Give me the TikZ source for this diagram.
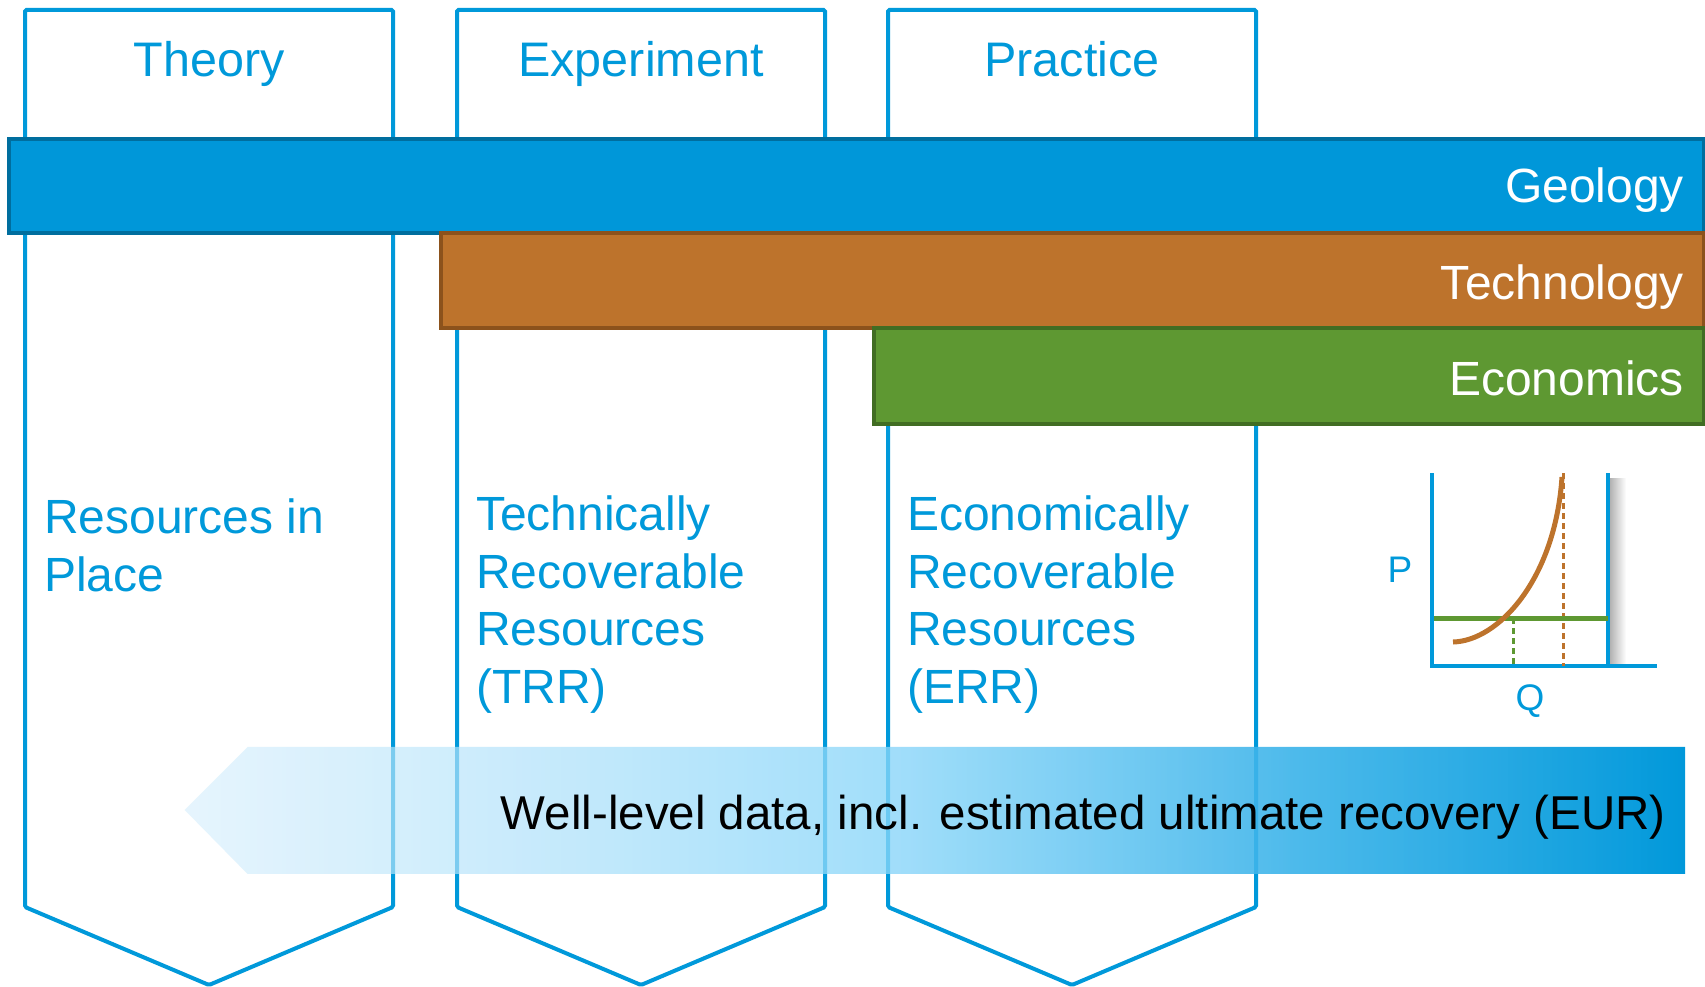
\documentclass[tikz,border=0pt]{standalone}
\usepackage{fontspec}
\setmainfont{Liberation Sans}
\usetikzlibrary{positioning, fadings}

\definecolor{cblue}{HTML}{0099DA}
\definecolor{geofill}{HTML}{0097D9}
\definecolor{geodraw}{HTML}{006E9E}
\definecolor{techfill}{HTML}{BD732C}
\definecolor{techdraw}{HTML}{8C521C}
\definecolor{econfill}{HTML}{5E9832}
\definecolor{econdraw}{HTML}{416D23}
\definecolor{eurA}{HTML}{D5EEFC}
\definecolor{eurB}{HTML}{87D5F9}
\definecolor{eurC}{HTML}{38B2E9}
\definecolor{eurD}{HTML}{0098DA}

\pgfdeclarehorizontalshading{eurshade}{100bp}{color(0bp)=(eurA); color(25bp)=(eurA); color(49bp)=(eurB); color(62bp)=(eurC); color(75bp)=(eurD); color(100bp)=(eurD)}
\tikzfading[name=eurfade, left color=transparent!40, right color=transparent!0]

\tikzstyle{column} = [draw=cblue, line width=4pt, rounded corners=1.5pt, fill=white]
\tikzstyle{band} = [line width=4pt]
\tikzstyle{head} = [text=cblue, font=\fontsize{48.5}{57}\selectfont, anchor=base, inner sep=0pt]
\tikzstyle{bandlabel} = [text=white, font=\fontsize{48}{57}\selectfont, anchor=base east, inner sep=0pt]
\tikzstyle{body} = [text=cblue, font=\fontsize{48}{57.5}\selectfont, align=left, anchor=north west, inner sep=0pt]
\tikzstyle{axis} = [draw=cblue, line width=4pt]
\tikzstyle{axislabel} = [text=cblue, font=\fontsize{37}{40}\selectfont, inner sep=0pt]
\tikzstyle{dropline} = [line width=3pt, dash pattern=on 6pt off 4pt]

\begin{document}
\begin{tikzpicture}[x=1pt, y=-1pt]
    \useasboundingbox (0,0) rectangle (1705,987);

    % columns
    \foreach \x in {25, 457, 888}
        \draw [column] (\x,10) -- ++(368,0) -- ++(0,897) -- ++(-184,78) -- ++(-184,-78) -- cycle;
    \node (theory) [head] at (209,77) {Theory};
    \node (experiment) [head] at (641,77) {Experiment};
    \node (practice) [head] at (1072,77) {Practice};

    % bands
    \draw [band, fill=geofill, draw=geodraw] (9,139) rectangle (1704,233);
    \draw [band, fill=techfill, draw=techdraw] (441,233) rectangle (1704,328);
    \draw [band, fill=econfill, draw=econdraw] (874,328) rectangle (1704,424);
    \node (geology) [bandlabel] at (1684,203) {Geology};
    \node (technology) [bandlabel] at (1684,299) {Technology};
    \node (economics) [bandlabel] at (1684,395) {Economics};

    % resource classes
    \node (rip) [body] at (44,498.6) {Resources in\\Place};
    \node (trr) [body] at (476,496) {Technically\\Recoverable\\Resources\\(TRR)};
    \node (err) [body] at (907,496) {Economically\\Recoverable\\Resources\\(ERR)};

    % supply curve
    \shade [left color=black!30, right color=white] (1610,478) rectangle (1626,664);
    \draw [axis] (1432,473) -- (1432,666) -- (1657,666);
    \draw [axis] (1608,473) -- (1608,666);
    \draw [dropline, econfill] (1513,618) -- (1513,666);
    \draw [dropline, techfill] (1563,473) -- (1563,666);
    \draw [econfill, line width=5pt] (1434,618) -- (1608,618);
    \draw [techfill, line width=5pt] (1453,642) .. controls (1498,641) and (1555,580) .. (1562,477);
    \node (p) [axislabel] at (1400,570) {P};
    \node (q) [axislabel] at (1530,701) {Q};

    % well-level data
    \shade [shading=eurshade, path fading=eurfade] (186,810) -- (249,747) -- (1689,747) -- (1689,874) -- (249,874) -- cycle;
    \node (eur) [font=\fontsize{47.5}{57}\selectfont, anchor=base east, inner sep=0pt] at (1666,829) {Well-level data, incl. estimated ultimate recovery (EUR)};
\end{tikzpicture}
\end{document}
